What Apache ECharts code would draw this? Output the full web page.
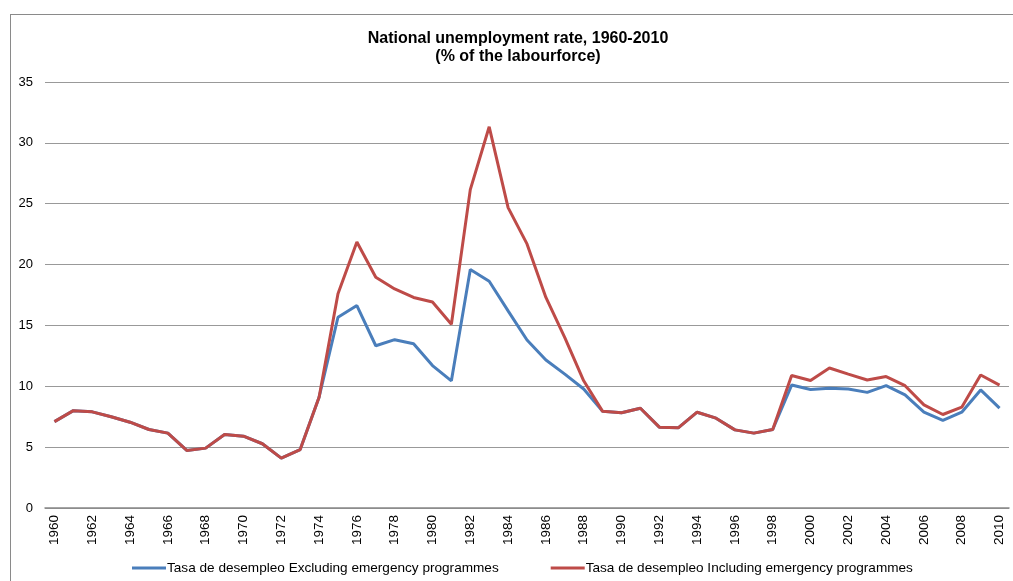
<!DOCTYPE html>
<html>
<head>
<meta charset="utf-8">
<script src="https://cdn.jsdelivr.net/npm/echarts@6/dist/echarts.min.js"></script>
<style>
html,body{margin:0;padding:0;background:#fff;}
#frame{position:absolute;left:10px;top:14px;width:1020px;height:600px;border:1px solid #8a8a8a;box-sizing:border-box;}
#chart{position:absolute;left:0;top:0;width:1013px;height:581px;}
</style>
</head>
<body>
<div id="frame"></div>
<div id="chart"></div>
<script>
var years = [];
for (var y = 1960; y <= 2010; y++) years.push(String(y));
var excluding = [7.1,8.0,7.9,7.5,7.05,6.45,6.15,4.73,4.92,6.04,5.9,5.28,4.1,4.8,9.1,
  15.67,16.63,13.33,13.83,13.5,11.7,10.45,19.6,18.63,16.2,13.8,12.16,11.0,9.78,
  7.94,7.82,8.2,6.64,6.59,7.87,7.38,6.42,6.15,6.45,
  10.1,9.73,9.84,9.78,9.5,10.05,9.3,7.87,7.19,7.87,9.7,8.2];
var including = [7.1,8.0,7.9,7.5,7.05,6.45,6.15,4.73,4.92,6.04,5.9,5.28,4.1,4.8,9.1,
  17.6,21.85,18.96,18.0,17.3,16.93,15.1,26.16,31.32,24.68,21.7,17.3,14.0,10.45,
  7.94,7.82,8.2,6.64,6.59,7.87,7.38,6.42,6.15,6.45,
  10.88,10.47,11.5,11.0,10.52,10.8,10.05,8.47,7.68,8.28,10.93,10.1];
var seriesNames = ['Tasa de desempleo Excluding emergency programmes','Tasa de desempleo Including emergency programmes'];

var chart = echarts.init(document.getElementById('chart'));
chart.setOption({
  animation:false,
  title:{
    text:'National unemployment rate, 1960-2010\n(% of the labourforce)',
    left:513, textAlign:'center', top:25,
    textStyle:{fontFamily:'Liberation Sans, Arial',fontSize:16,fontWeight:'bold',color:'#000',lineHeight:18}
  },
  legend:{
    top:556, left:127, itemGap:52, itemWidth:34, itemHeight:3,
    icon:'rect',
    textStyle:{fontFamily:'Liberation Sans, Arial',fontSize:13.6,color:'#000',padding:[0,0,0,-4]},
    data:seriesNames
  },
  grid:{left:45,right:4,top:82,bottom:73},
  xAxis:{
    type:'category', data:years, boundaryGap:true,
    axisLine:{lineStyle:{color:'#888',width:1.5}},
    axisTick:{show:false},
    axisLabel:{interval:1,rotate:90,fontFamily:'Liberation Sans, Arial',fontSize:13.5,color:'#000',margin:7}
  },
  yAxis:{
    type:'value', min:0, max:35, interval:5,
    axisLine:{show:false}, axisTick:{show:false},
    axisLabel:{fontFamily:'Liberation Sans, Arial',fontSize:13,color:'#000',margin:12},
    splitLine:{lineStyle:{color:'#999',width:1.2}}
  },
  series:[
    {name:seriesNames[0],type:'line',data:excluding,symbol:'none',lineStyle:{color:'#4A7EBB',width:3},itemStyle:{color:'#4A7EBB'}},
    {name:seriesNames[1],type:'line',data:including,symbol:'none',lineStyle:{color:'#BE4B48',width:3},itemStyle:{color:'#BE4B48'}}
  ]
});
</script>
</body>
</html>
